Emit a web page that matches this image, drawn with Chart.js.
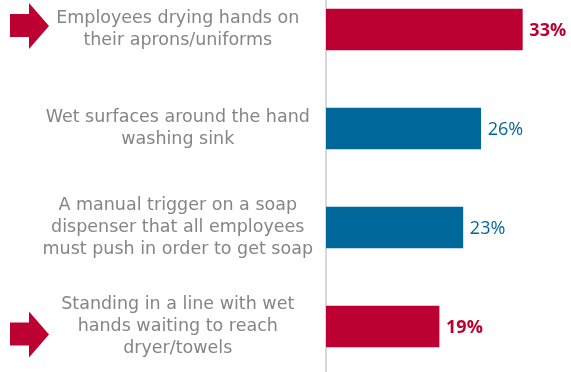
<!DOCTYPE html>
<html>
<head>
<meta charset="utf-8">
<script src="https://cdn.jsdelivr.net/npm/chart.js@4"></script>
<style>
  html, body { margin: 0; padding: 0; background: #fff; overflow: hidden; }
  #wrap { position: absolute; left: 0; top: -20px; width: 571px; height: 396px; }
</style>
</head>
<body>
<div id="wrap"><canvas id="chart"></canvas></div>
<script>
// data
const labels = [
  ["Employees drying hands on", "their aprons/uniforms"],
  ["Wet surfaces around the hand", "washing sink"],
  ["A manual trigger on a soap", "dispenser that all employees", "must push in order to get soap"],
  ["Standing in a line with wet", "hands waiting to reach", "dryer/towels"],
];
const values = [33, 26, 23, 19];
const highlighted = [true, false, false, true];

const RED = "#bc0031";
const BLUE = "#00679a";
const barColors = highlighted.map(h => h ? RED : BLUE);

// value labels at the end of each bar
const valueLabels = {
  id: "valueLabels",
  afterDatasetsDraw(chart) {
    const ctx = chart.ctx;
    const meta = chart.getDatasetMeta(0);
    ctx.save();
    ctx.textBaseline = "middle";
    ctx.textAlign = "left";
    meta.data.forEach((bar, i) => {
      ctx.fillStyle = barColors[i];
      ctx.font = (highlighted[i] ? "bold " : "") + "18px 'Open Sans', sans-serif";
      ctx.fillText(values[i] + "%", bar.x + 7, bar.y + 1);
    });
    ctx.restore();
  },
};

// red arrows pointing at the highlighted rows
const arrows = {
  id: "arrows",
  afterDraw(chart) {
    const ctx = chart.ctx;
    const y = chart.scales.y;
    const shift = [-3.5, 0, 0, 8];
    ctx.save();
    ctx.fillStyle = RED;
    highlighted.forEach((h, i) => {
      if (!h) return;
      const c = y.getPixelForValue(i) + shift[i];
      ctx.beginPath();
      ctx.moveTo(10, c - 12);
      ctx.lineTo(29, c - 12);
      ctx.lineTo(29, c - 23);
      ctx.lineTo(49, c);
      ctx.lineTo(29, c + 23);
      ctx.lineTo(29, c + 11);
      ctx.lineTo(10, c + 11);
      ctx.closePath();
      ctx.fill();
    });
    ctx.restore();
  },
};

new Chart(document.getElementById("chart"), {
  type: "bar",
  data: {
    labels: labels,
    datasets: [{
      data: values,
      backgroundColor: barColors,
      barThickness: 41,
      borderWidth: 0,
    }],
  },
  options: {
    indexAxis: "y",
    responsive: true,
    maintainAspectRatio: false,
    animation: false,
    layout: { padding: { left: 0, right: 7, top: 0, bottom: 0 } },
    plugins: { legend: { display: false }, tooltip: { enabled: false } },
    scales: {
      x: { display: false, min: 0, max: 40 },
      y: {
        grid: { display: false, drawTicks: false },
        border: { display: true, color: "#d9d9d9", width: 2 },
        afterFit: s => { s.width = 326; s.paddingTop = 0; s.paddingBottom = 0; },
        ticks: {
          crossAlign: "center",
          padding: 13,
          color: "#858585",
          font: { family: "'DejaVu Sans', sans-serif", size: 17.5, lineHeight: 1.27 },
        },
      },
    },
  },
  plugins: [valueLabels, arrows],
});
</script>
</body>
</html>
